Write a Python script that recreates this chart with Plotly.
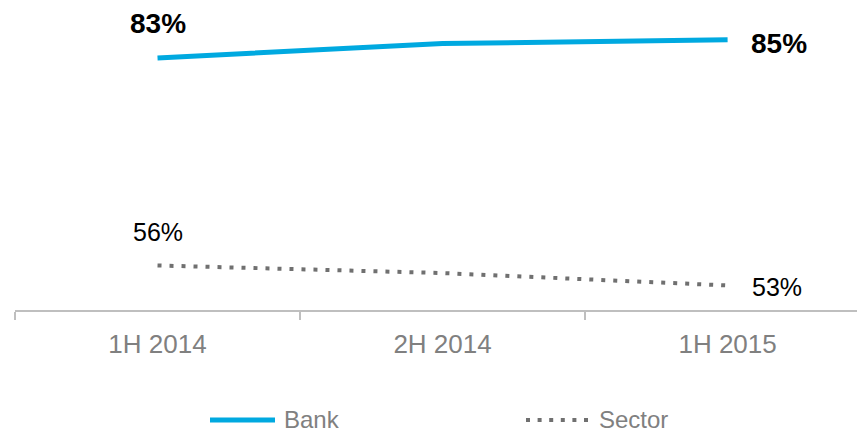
import plotly.graph_objects as go

categories = ["1H 2014", "2H 2014", "1H 2015"]
bank = [82.9, 84.8, 85.3]
sector = [55.6, 54.6, 52.97]
series_names = ["Bank", "Sector"]

BLUE = "#00A9E0"
GREY = "#707070"
AXIS = "#BFBFBF"
FONT = "Liberation Sans, Arial, sans-serif"

W, H = 857, 433
L, R, T, B = 15, 0, 0, 123
pw = W - L - R
ph = H - T - B

fig = go.Figure()
fig.add_trace(go.Scatter(x=categories, y=bank, mode="lines", name=series_names[0],
                         line=dict(color=BLUE, width=5), showlegend=False))
fig.add_trace(go.Scatter(x=categories, y=sector, mode="lines", name=series_names[1],
                         line=dict(color=GREY, width=4, dash="4px,8px"), showlegend=False))

annos = []
# data labels at first and last points
annos.append(dict(x=categories[0], y=bank[0], text=f"{bank[0]:.0f}%", showarrow=False,
                  yshift=34, font=dict(size=28, color="black", family=FONT, weight="bold")))
annos.append(dict(x=categories[-1], y=bank[-1], text=f"{bank[-1]:.0f}%", showarrow=False,
                  xanchor="left", xshift=21, yshift=-4,
                  font=dict(size=28, color="black", family=FONT, weight="bold")))
annos.append(dict(x=categories[0], y=sector[0], text=f"{sector[0]:.0f}%", showarrow=False,
                  yshift=33, font=dict(size=25, color="black", family=FONT)))
annos.append(dict(x=categories[-1], y=sector[-1], text=f"{sector[-1]:.0f}%", showarrow=False,
                  xanchor="left", xshift=22, yshift=-2,
                  font=dict(size=25, color="black", family=FONT)))

# manual legend
def px_x(p):
    return (p - L) / pw

def px_y(p):
    return (T + ph - p) / ph

leg_y = 420
shapes = [
    dict(type="line", xref="paper", yref="paper", x0=px_x(210), x1=px_x(275), y0=px_y(leg_y), y1=px_y(leg_y),
         line=dict(color=BLUE, width=5)),
    dict(type="line", xref="paper", yref="paper", x0=px_x(526), x1=px_x(588), y0=px_y(leg_y), y1=px_y(leg_y),
         line=dict(color=GREY, width=4, dash="4px,7.6px")),
]
annos.append(dict(xref="paper", yref="paper", x=px_x(282), y=px_y(leg_y - 1), xanchor="left", yanchor="middle",
                  text=series_names[0], showarrow=False, font=dict(size=24, color="#808080", family=FONT)))
annos.append(dict(xref="paper", yref="paper", x=px_x(597), y=px_y(leg_y - 1), xanchor="left", yanchor="middle",
                  text=series_names[1], showarrow=False, font=dict(size=24, color="#808080", family=FONT)))

fig.update_layout(
    width=W, height=H,
    margin=dict(l=L, r=R, t=T, b=B, pad=0),
    paper_bgcolor="white", plot_bgcolor="white",
    showlegend=False,
    annotations=annos,
    shapes=shapes,
    xaxis=dict(type="category", range=[-0.5, 2.454], showgrid=False, zeroline=False,
               showline=True, linecolor=AXIS, linewidth=2,
               ticks="outside", tickson="boundaries", ticklen=8, tickwidth=2, tickcolor=AXIS,
               tickfont=dict(size=26, color="#808080", family=FONT), ticklabelstandoff=10),
    yaxis=dict(range=[49.74, 90.53], visible=False, showgrid=False, zeroline=False),
)

fig.write_html("out.html")
